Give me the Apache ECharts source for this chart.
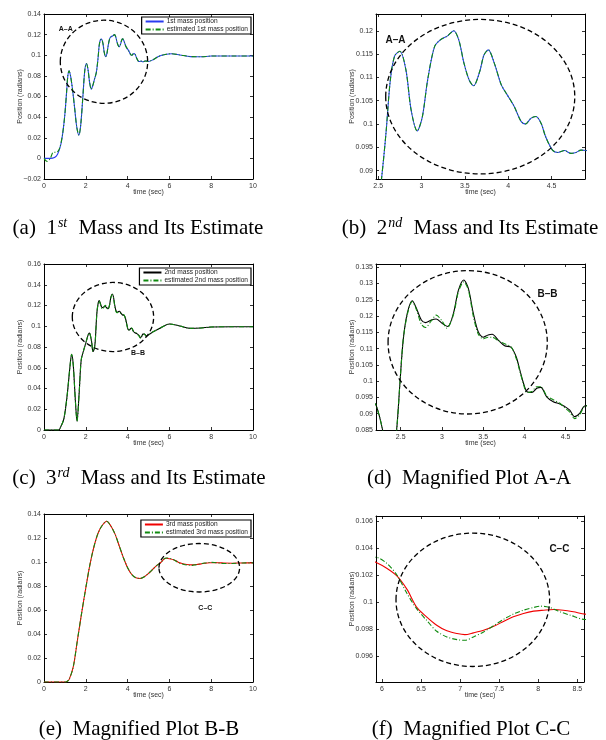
<!DOCTYPE html>
<html>
<head>
<meta charset="utf-8">
<script src="https://cdn.jsdelivr.net/npm/echarts@6/dist/echarts.min.js"></script>
<style>
html, body { margin: 0; padding: 0; background: #fff; }
#main { width: 606px; height: 740px; }
</style>
</head>
<body>
<div id="main"></div>
<script>
// values: [time (sec), position (radians)]
var mass1 = [
  [0, 0], [0.3, 0], [0.5, 0.0008], [0.65, 0.004], [0.8, 0.013], [0.9, 0.025], [1.0, 0.043],
  [1.08, 0.064], [1.14, 0.08], [1.2, 0.085], [1.27, 0.08], [1.37, 0.066], [1.47, 0.048],
  [1.57, 0.03], [1.67, 0.0225], [1.76, 0.033], [1.86, 0.06], [1.95, 0.085], [2.03, 0.092],
  [2.1, 0.087], [2.18, 0.074], [2.26, 0.067], [2.34, 0.071], [2.42, 0.077], [2.5, 0.083],
  [2.54, 0.0885], [2.59, 0.098], [2.64, 0.1094], [2.69, 0.1146], [2.75, 0.1156], [2.82, 0.1116],
  [2.88, 0.103], [2.95, 0.0985], [3.01, 0.1016], [3.07, 0.1094], [3.15, 0.1166], [3.22, 0.1181],
  [3.3, 0.1189], [3.37, 0.12], [3.43, 0.118], [3.49, 0.113], [3.55, 0.1094], [3.6, 0.1082],
  [3.67, 0.1112], [3.72, 0.1148], [3.77, 0.1159], [3.84, 0.113], [3.92, 0.1084], [3.99, 0.1062],
  [4.07, 0.1037], [4.15, 0.1005], [4.2, 0.1], [4.26, 0.1012], [4.32, 0.1016], [4.38, 0.1001],
  [4.43, 0.0973], [4.51, 0.0944], [4.57, 0.0939], [4.65, 0.0943], [4.72, 0.0937], [4.78, 0.0939],
  [4.84, 0.0944], [4.9, 0.0943], [5.0, 0.094], [5.2, 0.0955], [5.5, 0.099], [5.8, 0.1008],
  [6.1, 0.1015], [6.5, 0.1003], [7.0, 0.0987], [7.5, 0.0985], [8.0, 0.0992], [9.0, 0.0993], [10, 0.0993]
];
var mass1Est = [
  [0, 0], [0.15, -0.003], [0.3, 0.0], [0.45, 0.006], [0.6, 0.006], [0.75, 0.01], [0.9, 0.025], [1.0, 0.043],
  [1.08, 0.064], [1.14, 0.08], [1.2, 0.085], [1.27, 0.08], [1.37, 0.066], [1.47, 0.048],
  [1.57, 0.03], [1.67, 0.0225], [1.76, 0.033], [1.86, 0.06], [1.95, 0.085], [2.03, 0.092],
  [2.1, 0.087], [2.18, 0.074], [2.26, 0.067], [2.34, 0.071], [2.42, 0.077], [2.5, 0.083],
  [2.54, 0.0885], [2.59, 0.098], [2.64, 0.1094], [2.69, 0.1146], [2.75, 0.1156], [2.82, 0.1116],
  [2.88, 0.103], [2.95, 0.0985], [3.01, 0.1016], [3.07, 0.1094], [3.15, 0.1166], [3.22, 0.1181],
  [3.3, 0.1189], [3.37, 0.12], [3.43, 0.118], [3.49, 0.113], [3.55, 0.1094], [3.6, 0.1082],
  [3.67, 0.1112], [3.72, 0.1148], [3.77, 0.1159], [3.84, 0.113], [3.92, 0.1084], [3.99, 0.1062],
  [4.07, 0.1037], [4.15, 0.1005], [4.2, 0.1], [4.26, 0.1012], [4.32, 0.1016], [4.38, 0.1001],
  [4.43, 0.0973], [4.51, 0.0944], [4.57, 0.0939], [4.65, 0.0943], [4.72, 0.0937], [4.78, 0.0939],
  [4.84, 0.0944], [4.9, 0.0943], [5.0, 0.094], [5.2, 0.0955], [5.5, 0.099], [5.8, 0.1008],
  [6.1, 0.1015], [6.5, 0.1003], [7.0, 0.0987], [7.5, 0.0985], [8.0, 0.0992], [9.0, 0.0993], [10, 0.0993]
];

var mass2 = [
  [0, 0], [0.7, 0], [0.8, 0.003], [0.95, 0.0107], [1.1, 0.032], [1.25, 0.0627], [1.32, 0.073],
  [1.4, 0.0627], [1.5, 0.0286], [1.58, 0.0084], [1.68, 0.035], [1.78, 0.0675], [1.9, 0.077],
  [2.0, 0.0838], [2.1, 0.0909], [2.16, 0.0935], [2.2, 0.0927], [2.28, 0.085], [2.34, 0.0756],
  [2.41, 0.079], [2.45, 0.085], [2.49, 0.0993], [2.53, 0.1127], [2.58, 0.1209], [2.64, 0.1247],
  [2.69, 0.1224], [2.75, 0.1188], [2.8, 0.118], [2.87, 0.1188], [2.93, 0.1191], [3.01, 0.1176],
  [3.07, 0.1168], [3.14, 0.1209], [3.2, 0.128], [3.265, 0.1311], [3.32, 0.1285], [3.38, 0.1209],
  [3.44, 0.1152], [3.5, 0.1135], [3.56, 0.1142], [3.61, 0.1144], [3.68, 0.1127], [3.76, 0.1109],
  [3.84, 0.1104], [3.9, 0.1075], [3.945, 0.1034], [3.99, 0.0993], [4.03, 0.0968], [4.09, 0.0965],
  [4.15, 0.0978], [4.2, 0.0981], [4.27, 0.0952], [4.35, 0.0937], [4.43, 0.093], [4.49, 0.0922],
  [4.55, 0.0911], [4.61, 0.0891], [4.67, 0.0901], [4.73, 0.0924], [4.8, 0.0925], [4.9, 0.0905],
  [5.0, 0.0915], [5.2, 0.0945], [5.5, 0.0975], [6.0, 0.1022], [6.5, 0.1003], [7.0, 0.098],
  [7.5, 0.0983], [8.0, 0.0993], [9.0, 0.0995], [10, 0.0995]
];
var mass2Est = [
  [0, 0], [0.7, 0], [0.8, 0.003], [0.95, 0.0107], [1.1, 0.032], [1.25, 0.0627], [1.32, 0.073],
  [1.4, 0.0627], [1.5, 0.0286], [1.58, 0.0084], [1.68, 0.035], [1.78, 0.0675], [1.9, 0.077],
  [2.0, 0.0838], [2.1, 0.0909], [2.16, 0.0935], [2.2, 0.0927], [2.28, 0.085], [2.34, 0.0756],
  [2.41, 0.079], [2.45, 0.085], [2.49, 0.0993], [2.53, 0.1127], [2.58, 0.1205], [2.64, 0.1245],
  [2.69, 0.122], [2.75, 0.1175], [2.8, 0.1165], [2.87, 0.1185], [2.93, 0.1203], [3.0, 0.1185],
  [3.06, 0.1163], [3.14, 0.1205], [3.2, 0.1275], [3.265, 0.1305], [3.32, 0.128], [3.38, 0.12],
  [3.44, 0.1145], [3.5, 0.113], [3.56, 0.1135], [3.61, 0.1135], [3.68, 0.1125], [3.76, 0.1115],
  [3.84, 0.1105], [3.9, 0.107], [3.945, 0.103], [3.99, 0.099], [4.03, 0.0965], [4.09, 0.0968],
  [4.15, 0.0983], [4.2, 0.0983], [4.27, 0.0955], [4.35, 0.0943], [4.43, 0.0932], [4.49, 0.0918],
  [4.55, 0.0905], [4.61, 0.0885], [4.67, 0.0897], [4.73, 0.0922], [4.8, 0.0925], [4.9, 0.0905],
  [5.0, 0.0915], [5.2, 0.0945], [5.5, 0.0975], [6.0, 0.1022], [6.5, 0.1003], [7.0, 0.098],
  [7.5, 0.0983], [8.0, 0.0993], [9.0, 0.0995], [10, 0.0995]
];

var mass3 = [
  [0, 0], [1.0, 0], [1.1, 0.0005], [1.2, 0.002], [1.4, 0.0126], [1.6, 0.035], [1.8, 0.0574],
  [2.0, 0.0784], [2.2, 0.098], [2.4, 0.1134], [2.6, 0.1246], [2.8, 0.1308], [3.0, 0.134],
  [3.2, 0.130], [3.4, 0.1232], [3.6, 0.1134], [3.8, 0.1036], [4.0, 0.0952], [4.2, 0.0896],
  [4.4, 0.0868], [4.6, 0.0863], [4.8, 0.0877], [5.0, 0.0905], [5.2, 0.0938], [5.4, 0.0972],
  [5.6, 0.0998], [5.75, 0.1026], [5.85, 0.1031], [5.92, 0.10297], [6.06, 0.10253], [6.19, 0.10196],
  [6.32, 0.10096], [6.44, 0.09967], [6.57, 0.09893], [6.7, 0.09831], [6.83, 0.09789], [6.96, 0.09769],
  [7.06, 0.09761], [7.17, 0.09774], [7.3, 0.09793], [7.43, 0.09823], [7.56, 0.0986], [7.68, 0.09893],
  [7.81, 0.09918], [7.94, 0.09935], [8.07, 0.09942], [8.2, 0.09947], [8.32, 0.09942], [8.45, 0.0993],
  [8.6, 0.09913], [9.0, 0.099], [9.5, 0.0992], [10, 0.0993]
];
var mass3Est = [
  [0, 0], [1.0, 0], [1.1, 0.0005], [1.2, 0.002], [1.4, 0.0126], [1.6, 0.035], [1.8, 0.0574],
  [2.0, 0.0784], [2.2, 0.098], [2.4, 0.1134], [2.6, 0.1246], [2.8, 0.1308], [3.0, 0.134],
  [3.2, 0.130], [3.4, 0.1232], [3.6, 0.1134], [3.8, 0.1036], [4.0, 0.0952], [4.2, 0.0896],
  [4.4, 0.0868], [4.6, 0.0863], [4.8, 0.0877], [5.0, 0.0905], [5.2, 0.0938], [5.4, 0.0972],
  [5.6, 0.0998], [5.75, 0.1027], [5.85, 0.1033], [5.92, 0.10334], [6.06, 0.1029], [6.19, 0.10203],
  [6.32, 0.10066], [6.44, 0.09955], [6.57, 0.09868], [6.7, 0.09786], [6.83, 0.09744], [6.96, 0.09724],
  [7.06, 0.09719], [7.17, 0.09744], [7.3, 0.09781], [7.43, 0.09828], [7.56, 0.09876], [7.68, 0.09913],
  [7.81, 0.09942], [7.94, 0.09962], [8.03, 0.09972], [8.15, 0.09962], [8.28, 0.0993], [8.41, 0.09905],
  [8.6, 0.09873], [9.0, 0.0988], [9.5, 0.0992], [10, 0.0993]
];

// tick labels
var timeTicks = [0, 2, 4, 6, 8, 10];
var timeTicksA = [2.5, 3, 3.5, 4, 4.5];
var timeTicksC = [6, 6.5, 7, 7.5, 8, 8.5];
var posTicks1 = [-0.02, 0, 0.02, 0.04, 0.06, 0.08, 0.1, 0.12, 0.14];
var posTicks2 = [0, 0.02, 0.04, 0.06, 0.08, 0.1, 0.12, 0.14, 0.16];
var posTicks3 = [0, 0.02, 0.04, 0.06, 0.08, 0.1, 0.12, 0.14];
var posTicksA = [0.09, 0.095, 0.1, 0.105, 0.11, 0.115, 0.12];
var posTicksB = [0.085, 0.09, 0.095, 0.1, 0.105, 0.11, 0.115, 0.12, 0.125, 0.13, 0.135];
var posTicksC = [0.096, 0.098, 0.1, 0.102, 0.104, 0.106];

var names = ['1st mass position', 'estimated 1st mass position',
             '2nd mass position', 'estimated 2nd mass position',
             '3rd mass position', 'estimated 3rd mass position'];

var dashDot = [5, 2, 1, 2];
var ser1 = [[names[0], mass1, '#2a3cf0', 'solid'], [names[1], mass1Est, '#108a10', dashDot]];
var ser2 = [[names[2], mass2, '#000000', 'solid'], [names[3], mass2Est, '#108a10', dashDot]];
var ser3 = [[names[4], mass3, '#f00000', 'solid'], [names[5], mass3Est, '#108a10', dashDot]];

var panels = [
  { grid: { left: 44, top: 14, width: 209, height: 165 }, x: [0, 10], y: [-0.02, 0.14], xt: timeTicks, yt: posTicks1,
    lines: ser1, legend: { right: 355, top: 17 }, ring: [2.87, 0.0937, 2.09, 0.0403], tag: ['A–A', 1.04, 0.1254, 7] },
  { grid: { left: 376, top: 14, width: 209, height: 165 }, x: [2.475, 4.885], y: [0.0882, 0.1236], xt: timeTicksA, yt: posTicksA,
    lines: ser1, ring: [3.677, 0.10586, 1.09, 0.01657], tag: ['A–A', 2.70, 0.1179, 10] },
  { grid: { left: 44, top: 264, width: 209, height: 166 }, x: [0, 10], y: [0, 0.16], xt: timeTicks, yt: posTicks2,
    lines: ser2, legend: { right: 355, top: 268 }, ring: [3.30, 0.1089, 1.946, 0.0333], tag: ['B–B', 4.5, 0.074, 7] },
  { grid: { left: 376, top: 264, width: 209, height: 166 }, x: [2.2, 4.735], y: [0.085, 0.136], xt: timeTicksA, yt: posTicksB,
    lines: ser2, ring: [3.312, 0.11195, 0.9656, 0.02203], tag: ['B–B', 4.28, 0.1268, 10] },
  { grid: { left: 44, top: 514, width: 209, height: 168 }, x: [0, 10], y: [0, 0.14], xt: timeTicks, yt: posTicks3,
    lines: ser3, legend: { right: 355, top: 520 }, ring: [7.43, 0.0952, 1.93, 0.0202], tag: ['C–C', 7.72, 0.0616, 7] },
  { grid: { left: 376, top: 516, width: 208, height: 166 }, x: [5.923, 8.585], y: [0.0941, 0.1064], xt: timeTicksC, yt: posTicksC,
    lines: ser3, ring: [7.162, 0.10019, 0.983, 0.00494], tag: ['C–C', 8.27, 0.1039, 10] }
];

var captions = [
  ['(a)  1{s|st} Mass and Its Estimate', 138, 228],
  ['(b)  2{s|nd} Mass and Its Estimate', 470, 228],
  ['(c)  3{s|rd} Mass and Its Estimate', 139, 478],
  ['(d)  Magnified Plot A-A', 469, 478],
  ['(e)  Magnified Plot B-B', 139, 729],
  ['(f)  Magnified Plot C-C', 471, 729]
];

var FONT = '"Liberation Sans", Arial, sans-serif';
var SERIF = '"Liberation Serif", "Times New Roman", serif';

function fmt(v) {
  return v < 0 ? '\u2212' + String(-v) : String(v);
}

var grids = [], xAxes = [], yAxes = [], series = [], legends = [];

panels.forEach(function (p, i) {
  grids.push(p.grid);
  var lineStyle = { color: '#000', width: 1 };
  var tick = { inside: true, length: 3, lineStyle: { color: '#000', width: 0.8 } };

  xAxes.push({
    type: 'value', gridIndex: i, position: 'bottom', min: p.x[0], max: p.x[1],
    axisLine: { onZero: false, lineStyle: lineStyle },
    axisTick: Object.assign({ customValues: p.xt }, tick),
    axisLabel: { customValues: p.xt, fontSize: 7, fontFamily: FONT, color: '#333', margin: 4, formatter: fmt },
    splitLine: { show: false },
    name: 'time (sec)', nameLocation: 'middle', nameGap: 10, nameMoveOverlap: false,
    nameTextStyle: { fontSize: 7, fontFamily: FONT, color: '#333' }
  });
  xAxes.push({
    type: 'value', gridIndex: i, position: 'top', min: p.x[0], max: p.x[1],
    axisLine: { onZero: false, lineStyle: lineStyle },
    axisTick: Object.assign({ customValues: p.xt }, tick),
    axisLabel: { show: false }, splitLine: { show: false }
  });
  yAxes.push({
    type: 'value', gridIndex: i, position: 'left', min: p.y[0], max: p.y[1],
    axisLine: { onZero: false, lineStyle: lineStyle },
    axisTick: Object.assign({ customValues: p.yt }, tick),
    axisLabel: { customValues: p.yt, fontSize: 7, fontFamily: FONT, color: '#333', margin: 3, formatter: fmt },
    splitLine: { show: false },
    name: 'Position (radians)', nameLocation: 'middle', nameGap: 20, nameMoveOverlap: false,
    nameTextStyle: { fontSize: 7, fontFamily: FONT, color: '#333' }
  });
  yAxes.push({
    type: 'value', gridIndex: i, position: 'right', min: p.y[0], max: p.y[1],
    axisLine: { onZero: false, lineStyle: lineStyle },
    axisTick: Object.assign({ customValues: p.yt }, tick),
    axisLabel: { show: false }, splitLine: { show: false }
  });

  p.lines.forEach(function (l) {
    series.push({
      type: 'line', name: l[0], data: l[1],
      xAxisIndex: 2 * i, yAxisIndex: 2 * i,
      symbol: 'none', smooth: 0.3, clip: true,
      color: l[2],
      lineStyle: { color: l[2], width: 1.1, type: l[3] },
      animation: false
    });
  });

  if (p.legend) {
    legends.push({
      orient: 'vertical', right: p.legend.right, top: p.legend.top,
      data: [p.lines[0][0], p.lines[1][0]],
      itemStyle: { opacity: 0, borderWidth: 0 },
      backgroundColor: '#fff', borderColor: '#000', borderWidth: 1.2,
      padding: [1, 3, 1, 3], itemGap: 1, itemWidth: 18, itemHeight: 6,
      textStyle: { fontSize: 6.6, fontFamily: FONT, color: '#222', padding: [0, 0, 0, -2] },
      selectedMode: false
    });
  }
});

var captionGraphics = captions.map(function (c) {
  return {
    type: 'text', x: c[1], y: c[2], z: 10,
    style: {
      text: c[0], fill: '#000', align: 'center', verticalAlign: 'middle',
      fontSize: 21, fontFamily: SERIF,
      rich: {
        s: { fontSize: 14, fontStyle: 'italic', verticalAlign: 'top', fontFamily: SERIF, padding: [0, 6, 9, 1] }
      }
    }
  };
});

var chart = echarts.init(document.getElementById('main'), null, { renderer: 'canvas' });
chart.setOption({
  backgroundColor: '#fff',
  animation: false,
  grid: grids,
  xAxis: xAxes,
  yAxis: yAxes,
  legend: legends,
  series: series,
  graphic: captionGraphics
});

// dashed ellipses and section tags, placed in data coordinates of each panel
var marks = [];
panels.forEach(function (p, i) {
  var finder = { xAxisIndex: 2 * i, yAxisIndex: 2 * i };
  var c = chart.convertToPixel(finder, [p.ring[0], p.ring[1]]);
  var ex = chart.convertToPixel(finder, [p.ring[0] + p.ring[2], p.ring[1] + p.ring[3]]);
  marks.push({
    type: 'ellipse', z: 5,
    shape: { cx: c[0], cy: c[1], rx: Math.abs(ex[0] - c[0]), ry: Math.abs(ex[1] - c[1]) },
    style: { fill: 'none', stroke: '#000', lineWidth: 1.3, lineDash: [5, 3] }
  });
  var t = chart.convertToPixel(finder, [p.tag[1], p.tag[2]]);
  marks.push({
    type: 'text', x: t[0], y: t[1], z: 6,
    style: { text: p.tag[0], fill: '#111', align: 'center', verticalAlign: 'middle',
             fontSize: p.tag[3], fontWeight: 'bold', fontFamily: FONT }
  });
});
chart.setOption({ graphic: captionGraphics.concat(marks) });
</script>
</body>
</html>
